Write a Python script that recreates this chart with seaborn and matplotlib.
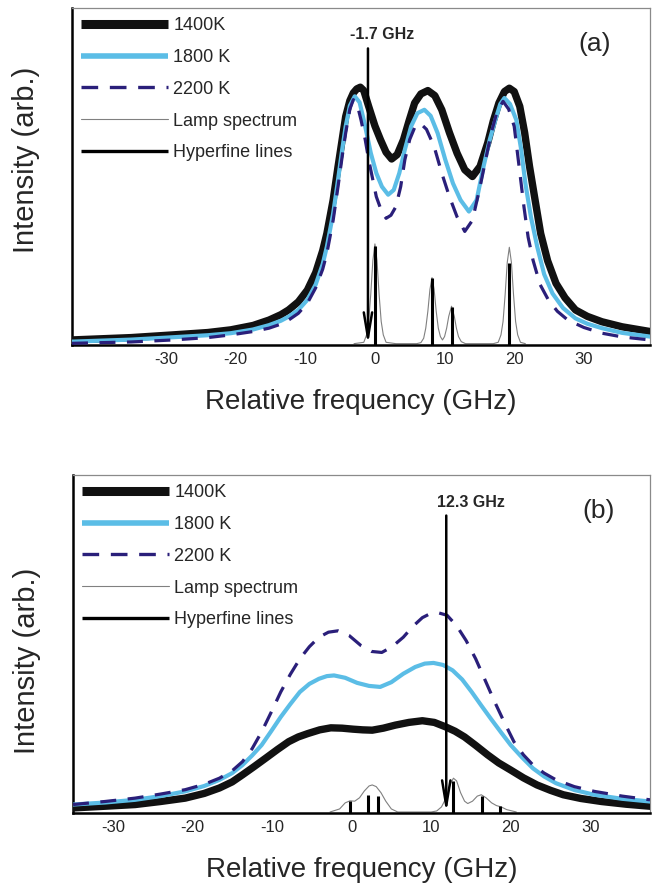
import numpy as np
import pandas as pd
import seaborn as sns
import matplotlib
matplotlib.use("Agg")
import matplotlib.pyplot as plt
from matplotlib.lines import Line2D

# ---- panel (a) -------------------------------------------------------------
a_1400_f = [-43.5, -35, -29, -24, -20.7, -17.5, -15.2, -13.5, -12.4, -11, -9.7, -8.5, -7.5, -6.9, -6.0,
            -5.3, -4.7, -4.2, -3.6, -3.1, -2.6, -2.1, -1.6, -0.9, 0, 0.8, 1.6, 2.4, 3.2, 4.1, 4.9, 5.7,
            6.6, 7.6, 8.6, 9.6, 10.7, 11.8, 12.9, 14.0, 15.1, 16.2, 17.0, 17.8, 18.6, 19.3, 20.0, 20.8,
            21.5, 22.2, 23.0, 23.8, 24.8, 26.0, 27.3, 28.8, 30.5, 32.6, 35.5, 39.5]
a_1400_i = [0.015, 0.022, 0.030, 0.037, 0.045, 0.058, 0.074, 0.090, 0.104, 0.128, 0.163, 0.215, 0.28,
            0.331, 0.43, 0.529, 0.61, 0.678, 0.725, 0.748, 0.760, 0.765, 0.755, 0.708, 0.65, 0.609,
            0.572, 0.552, 0.565, 0.609, 0.665, 0.718, 0.745, 0.755, 0.74, 0.698, 0.63, 0.569, 0.52,
            0.50, 0.53, 0.60, 0.665, 0.718, 0.752, 0.762, 0.752, 0.708, 0.63, 0.53, 0.43, 0.331, 0.25,
            0.183, 0.14, 0.104, 0.085, 0.069, 0.054, 0.040]

a_1800_f = [-43.5, -35, -29, -24, -20.7, -17.5, -15.2, -13.5, -12.4, -11, -9.7, -8.5, -7.5, -6.9, -6.0,
            -5.3, -4.7, -4.2, -3.6, -2.9, -2.2, -1.4, -0.6, 0.2, 1.0, 1.9, 2.7, 3.5, 4.3, 5.2, 6.1, 7.1,
            8.0, 9.0, 10.1, 11.2, 12.3, 13.5, 14.6, 15.6, 16.5, 17.3, 18.0, 18.6, 19.4, 20.3, 21.0,
            21.6, 22.4, 23.3, 24.3, 25.5, 27.0, 28.8, 30.5, 32.6, 35.5, 39.5]
a_1800_i = [0.010, 0.016, 0.023, 0.029, 0.035, 0.046, 0.059, 0.072, 0.084, 0.104, 0.134, 0.18, 0.24,
            0.292, 0.39, 0.49, 0.58, 0.649, 0.71, 0.738, 0.72, 0.649, 0.57, 0.51, 0.47, 0.446, 0.46,
            0.51, 0.58, 0.649, 0.688, 0.698, 0.68, 0.629, 0.55, 0.48, 0.43, 0.396, 0.43, 0.53, 0.61,
            0.668, 0.715, 0.733, 0.715, 0.668, 0.58, 0.48, 0.38, 0.292, 0.21, 0.153, 0.11, 0.079,
            0.063, 0.050, 0.036, 0.025]

a_2200_f = [-43.5, -35, -29, -24, -20.7, -17.5, -15.2, -13.5, -12.4, -11, -9.7, -8.5, -7.5, -6.9, -6.0,
            -5.3, -4.7, -4.2, -3.6, -3.1, -2.5, -2.0, -1.4, -0.9, -0.3, 0.2, 0.9, 1.6, 2.3, 3.0, 3.7,
            4.3, 5.0, 5.7, 6.5, 7.4, 8.5, 9.6, 10.7, 11.8, 12.9, 14.0, 15.1, 15.9, 16.7, 17.5, 18.4,
            19.2, 20.0, 20.7, 21.4, 22.0, 22.7, 23.7, 24.9, 26.2, 27.7, 30.0, 32.6, 35.5, 39.5]
a_2200_i = [0.005, 0.009, 0.015, 0.022, 0.030, 0.040, 0.050, 0.062, 0.074, 0.094, 0.124, 0.17, 0.225,
            0.272, 0.37, 0.47, 0.56, 0.629, 0.70, 0.728, 0.71, 0.668, 0.61, 0.55, 0.49, 0.44, 0.40,
            0.376, 0.385, 0.41, 0.47, 0.55, 0.61, 0.645, 0.658, 0.64, 0.589, 0.51, 0.44, 0.38, 0.337,
            0.37, 0.47, 0.55, 0.629, 0.69, 0.723, 0.70, 0.649, 0.53, 0.41, 0.32, 0.252, 0.18, 0.134,
            0.10, 0.074, 0.052, 0.035, 0.024, 0.015]

a_lamp_f = [-3.0, -1.6, -1.2, -0.9, -0.6, -0.3, 0, 0.3, 0.6, 0.9, 1.2, 1.6, 3.0,
            6.0, 6.6, 7.0, 7.3, 7.6, 7.9, 8.2, 8.5, 8.8, 9.1, 9.4, 9.7, 10.0, 10.3, 10.6, 11.0, 11.4,
            11.7, 12.0, 12.4, 13.0,
            17.0, 17.7, 18.1, 18.4, 18.7, 19.0, 19.3, 19.6, 19.9, 20.2, 20.5, 20.9, 21.6]
a_lamp_i = [0.004, 0.008, 0.03, 0.07, 0.15, 0.25, 0.30, 0.25, 0.15, 0.07, 0.03, 0.008, 0.004,
            0.004, 0.007, 0.02, 0.05, 0.10, 0.165, 0.20, 0.165, 0.10, 0.05, 0.025, 0.015, 0.025, 0.05,
            0.085, 0.115, 0.085, 0.05, 0.025, 0.01, 0.004,
            0.004, 0.008, 0.03, 0.07, 0.15, 0.245, 0.29, 0.245, 0.15, 0.07, 0.03, 0.008, 0.004]

a_hf_pos = [0.0, 8.2, 11.0, 19.3]
a_hf_h = [0.294, 0.199, 0.113, 0.244]
a_marker = -1.0
a_marker_text = "-1.7 GHz"

# ---- panel (b) -------------------------------------------------------------
b_1400_f = [-35.0, -31, -27.2, -24, -20.9, -18.5, -16.6, -15, -13.7, -12.2, -10.8, -9.3, -7.9, -6.7,
            -5.5, -4.0, -2.6, -1.2, 0.2, 1.4, 2.6, 4.0, 5.5, 7.2, 8.9, 10.4, 11.8, 13.0, 14.2, 15.6,
            17.1, 18.5, 20.0, 21.6, 23.3, 25.0, 26.6, 28.8, 31.4, 34.5, 37.5]
b_1400_i = [0.015, 0.020, 0.025, 0.034, 0.044, 0.058, 0.074, 0.092, 0.113, 0.138, 0.162, 0.188,
            0.211, 0.225, 0.235, 0.246, 0.252, 0.251, 0.248, 0.246, 0.245, 0.251, 0.260, 0.268,
            0.273, 0.268, 0.255, 0.242, 0.225, 0.200, 0.172, 0.148, 0.127, 0.104, 0.083, 0.067,
            0.054, 0.043, 0.034, 0.026, 0.020]

b_1800_f = [-35.0, -31, -27.2, -24, -20.9, -18.5, -16.6, -15, -13.7, -12.5, -11.3, -10.1, -8.9, -7.7,
            -6.5, -5.3, -4.1, -3.1, -2.2, -0.8, 0.7, 2.2, 3.6, 5.0, 6.5, 8.0, 9.2, 10.3, 11.5, 12.7,
            13.9, 15.1, 16.3, 17.5, 18.8, 20.0, 21.4, 22.8, 24.2, 25.7, 28.0, 30.5, 34.0, 37.5]
b_1800_i = [0.025, 0.031, 0.039, 0.050, 0.064, 0.080, 0.098, 0.118, 0.142, 0.170, 0.201, 0.242,
            0.284, 0.322, 0.358, 0.382, 0.397, 0.405, 0.407, 0.400, 0.385, 0.376, 0.373, 0.387,
            0.412, 0.432, 0.442, 0.444, 0.438, 0.422, 0.395, 0.358, 0.318, 0.279, 0.238, 0.201,
            0.165, 0.132, 0.108, 0.088, 0.068, 0.054, 0.042, 0.034]

b_2200_f = [-35.0, -31, -27.2, -24, -20.9, -18.5, -16.6, -15, -13.7, -12.5, -11.3, -10.1, -8.9, -7.7,
            -6.5, -5.3, -4.1, -2.9, -1.7, -0.3, 1.2, 2.5, 3.8, 5.1, 6.5, 7.7, 8.9, 9.9, 10.8, 12.0,
            13.2, 14.4, 15.6, 16.8, 18.0, 19.2, 20.4, 21.6, 22.8, 24.2, 25.7, 28.0, 30.5, 34.0, 37.5]
b_2200_i = [0.025, 0.034, 0.044, 0.056, 0.069, 0.085, 0.103, 0.125, 0.152, 0.190, 0.240, 0.298,
            0.358, 0.410, 0.456, 0.492, 0.520, 0.535, 0.539, 0.525, 0.495, 0.478, 0.475, 0.492,
            0.520, 0.552, 0.578, 0.590, 0.593, 0.585, 0.554, 0.510, 0.456, 0.392, 0.328, 0.268,
            0.211, 0.172, 0.142, 0.118, 0.098, 0.078, 0.064, 0.050, 0.039]

b_lamp_f = [-2.7, -1.5, -0.8, -0.2, 0.4, 1.0, 1.6, 2.2, 2.6, 3.1, 3.7, 4.3, 5.0, 5.8, 10.0, 10.7,
            11.3, 12.0, 12.4, 12.8, 13.2, 13.7, 14.2, 14.6, 15.2, 15.8, 16.3, 16.9, 17.6, 18.2,
            18.8, 19.5, 20.7]
b_lamp_i = [0.003, 0.012, 0.030, 0.036, 0.035, 0.045, 0.065, 0.080, 0.083, 0.078, 0.060, 0.035,
            0.012, 0.003, 0.003, 0.006, 0.018, 0.050, 0.085, 0.103, 0.095, 0.060, 0.035, 0.028,
            0.035, 0.050, 0.054, 0.045, 0.030, 0.022, 0.018, 0.010, 0.003]

b_hf_pos = [-0.2, 2.1, 3.3, 12.8, 16.4, 18.6]
b_hf_h = [0.036, 0.054, 0.050, 0.095, 0.049, 0.020]
b_marker = 11.9
b_marker_text = "12.3 GHz"

xticks = [-30, -20, -10, 0, 10, 20, 30]

# ---- style -----------------------------------------------------------------
sns.set_style("white")
plt.rcParams["font.family"] = ["Liberation Sans", "DejaVu Sans"]
plt.rcParams["axes.unicode_minus"] = False

c_1400 = "#111111"
c_1800 = "#5bbde6"
c_2200 = "#2a1f7a"
c_lamp = "#808080"

fig = plt.figure(figsize=(6.59, 8.90), dpi=100)
ax_a = fig.add_axes([72 / 659, 1 - 345 / 890, 578 / 659, 337 / 890])
ax_b = fig.add_axes([73 / 659, 1 - 813 / 890, 577 / 659, 338 / 890])


def draw_panel(ax, f1400, i1400, f1800, i1800, f2200, i2200, lamp_f, lamp_i, hf_pos, hf_h,
               marker, marker_text, text_x, tag, tag_x, xlim, ylab_y):
    sns.lineplot(x=lamp_f, y=lamp_i, ax=ax, color=c_lamp, lw=0.8, sort=False, zorder=2)
    ax.vlines(hf_pos, 0, hf_h, color="black", lw=2.2, zorder=3)
    sns.lineplot(x=f1400, y=i1400, ax=ax, color=c_1400, lw=5.3, sort=False, zorder=4)
    sns.lineplot(x=f1800, y=i1800, ax=ax, color=c_1800, lw=3.0, sort=False, zorder=5)
    sns.lineplot(x=f2200, y=i2200, ax=ax, color=c_2200, lw=2.3, sort=False, zorder=6,
                 linestyle=(0, (5.0, 3.6)))

    ax.annotate("", xy=(marker, 0.0), xytext=(marker, 0.88),
                arrowprops=dict(arrowstyle="->,head_length=1.8,head_width=0.3", lw=1.8,
                                color="black", shrinkA=0, shrinkB=0), zorder=7)
    ax.text(text_x, 0.92, marker_text, ha="center", va="center", fontsize=11.5,
            fontweight="bold")
    ax.text(tag_x, 0.893, tag, ha="center", va="center", fontsize=19)

    ax.set_xlim(*xlim)
    ax.set_ylim(0, 1)
    ax.set_xticks(xticks)
    ax.set_xticklabels([str(t) for t in xticks])
    ax.set_yticks([])
    ax.tick_params(axis="x", length=0, pad=5, labelsize=12)
    ax.set_xlabel("Relative frequency (GHz)", fontsize=20, labelpad=16)
    ax.set_ylabel("Intensity (arb.)", fontsize=21)
    ax.yaxis.set_label_coords(-0.055, ylab_y)

    for side in ["left", "bottom"]:
        ax.spines[side].set_color("black")
        ax.spines[side].set_linewidth(1.8)
    for side in ["top", "right"]:
        ax.spines[side].set_color("#8a8a8a")
        ax.spines[side].set_linewidth(0.9)

    handles = [
        Line2D([], [], color=c_1400, lw=6.5, solid_capstyle="butt"),
        Line2D([], [], color=c_1800, lw=4.0, solid_capstyle="butt"),
        Line2D([], [], color=c_2200, lw=2.4, linestyle=(0, (5.0, 3.5))),
        Line2D([], [], color=c_lamp, lw=0.8),
        Line2D([], [], color="black", lw=2.4, solid_capstyle="butt"),
    ]
    labels = ["1400K", "1800 K", "2200 K", "Lamp spectrum", "Hyperfine lines"]
    ax.legend(handles, labels, loc="upper left", bbox_to_anchor=(0.016, 0.973),
              frameon=False, fontsize=13, handlelength=4.8, handletextpad=0.3,
              labelspacing=0.82, borderaxespad=0, borderpad=0)


draw_panel(ax_a, a_1400_f, a_1400_i, a_1800_f, a_1800_i, a_2200_f, a_2200_i, a_lamp_f,
           a_lamp_i, a_hf_pos, a_hf_h, a_marker, a_marker_text, 1.0, "(a)", 31.5,
           (-43.5, 39.5), 0.55)
draw_panel(ax_b, b_1400_f, b_1400_i, b_1800_f, b_1800_i, b_2200_f, b_2200_i, b_lamp_f,
           b_lamp_i, b_hf_pos, b_hf_h, b_marker, b_marker_text, 15.0, "(b)", 31.0,
           (-35.0, 37.5), 0.45)

fig.savefig("out.png", dpi=100)
